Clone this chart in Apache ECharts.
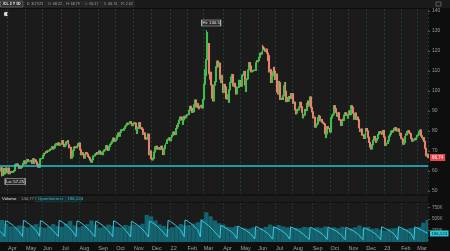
<!DOCTYPE html>
<html><head><meta charset="utf-8">
<script src="https://cdn.jsdelivr.net/npm/echarts@6/dist/echarts.min.js"></script>
<style>html,body{margin:0;padding:0;background:#0e0e0e;}#c{width:450px;height:251px;}</style>
</head><body><div id="c"></div>
<script>
// ---- daily closes per month (/CL) ----
const c2103 = [61.42, 61.55, 57.76, 61.18, 58.56, 60.97, 61.56, 60.55, 59.16];
const c2104 = [61.45, 58.65, 59.33, 59.77, 59.60, 59.32, 59.70, 60.18, 63.15, 63.46, 63.13, 63.38, 62.44, 61.35, 61.43, 62.14, 61.91, 62.94, 63.86, 65.01, 63.58];
const c2105 = [64.49, 65.69, 65.63, 64.71, 64.90, 64.92, 65.28, 63.82, 66.08, 63.82, 65.37, 65.49, 64.49, 63.36, 62.05, 61.94, 63.58, 66.05, 66.21, 66.32];
const c2106 = [67.72, 68.83, 68.81, 69.62, 69.23, 70.05, 69.96, 70.29, 70.91, 70.88, 72.12, 72.15, 71.04, 71.64, 73.06, 73.66, 73.08, 73.30, 74.05, 72.91, 73.47, 73.52];
const c2107 = [75.23, 75.16, 73.37, 72.20, 72.94, 74.56, 74.10, 75.25, 73.13, 71.65, 71.81, 66.42, 67.42, 70.30, 71.91, 72.07, 71.91, 71.65, 72.39, 73.62, 73.95];
const c2108 = [71.26, 70.56, 68.15, 69.09, 68.28, 66.48, 68.29, 69.25, 69.09, 68.44, 67.29, 66.59, 65.46, 64.50, 64.32, 65.64, 67.54, 67.54, 68.36, 68.74, 69.21, 68.50];
const c2109 = [68.59, 69.99, 69.29, 68.35, 69.30, 68.14, 69.72, 70.46, 70.61, 72.61, 71.97, 70.29, 70.49, 72.23, 73.30, 73.98, 74.98, 76.45, 75.29, 74.83, 75.03];
const c2110 = [75.88, 77.62, 78.93, 77.43, 79.30, 79.35, 80.52, 80.64, 80.44, 81.31, 82.28, 82.44, 82.96, 83.87, 83.50, 83.76, 84.65, 84.58, 82.66, 82.81, 83.57];
const c2111 = [84.05, 83.91, 80.86, 78.81, 81.27, 81.93, 84.15, 81.34, 81.59, 80.79, 80.88, 78.36, 79.01, 76.10, 75.94, 76.75, 78.50, 78.39, 68.15, 69.95, 66.18];
const c2112 = [65.57, 66.50, 66.26, 69.49, 72.05, 72.36, 70.94, 71.67, 71.29, 70.73, 70.87, 72.38, 70.86, 68.23, 71.12, 72.76, 73.79, 73.79, 75.57, 75.98, 76.56, 75.21];
const c2201 = [76.08, 76.99, 77.85, 79.46, 78.90, 78.23, 81.22, 82.64, 82.12, 83.82, 85.43, 86.96, 86.90, 85.55, 83.31, 85.60, 87.35, 86.61, 87.61, 88.15];
const c2202 = [88.20, 88.26, 90.27, 92.31, 91.32, 89.36, 89.66, 89.88, 93.10, 95.46, 92.07, 93.66, 91.76, 91.07, 92.35, 92.10, 92.81, 91.59, 95.72];
const c2203 = [103.41, 110.60, 107.67, 115.68, 119.40, 123.70, 108.70, 106.02, 109.33, 103.01, 96.44, 95.04, 102.98, 104.70, 112.12, 111.76, 114.93, 112.34, 113.90, 105.96, 104.24, 107.82, 100.28];
const c2204 = [99.27, 103.28, 101.96, 96.23, 96.03, 98.26, 94.29, 100.60, 104.25, 106.95, 108.21, 102.56, 102.75, 103.79, 102.07, 98.54, 101.70, 101.84, 105.36, 104.69];
const c2205 = [105.17, 102.41, 107.81, 108.26, 109.77, 103.09, 99.76, 105.71, 106.13, 110.49, 114.20, 112.21, 112.40, 109.59, 109.89, 110.28, 110.33, 110.29, 114.09, 115.07, 114.67];
const c2206 = [115.26, 116.87, 118.87, 118.50, 119.41, 122.11, 121.51, 120.67, 119.93, 120.93, 118.93, 115.31, 117.59, 109.56, 110.65, 104.27, 107.62, 109.57, 111.76, 109.78, 105.76];
const c2207 = [108.43, 99.50, 98.53, 104.79, 104.09, 95.84, 96.30, 95.78, 97.59, 102.60, 104.22, 99.88, 94.70, 96.70, 94.98, 97.26, 96.42, 98.62, 96.35, 98.62];
const c2208 = [93.89, 94.42, 90.66, 88.54, 89.01, 90.76, 90.50, 91.93, 94.34, 92.09, 89.41, 86.53, 87.65, 88.11, 90.77, 90.23, 93.74, 94.89, 92.52, 93.06, 97.01, 91.64, 89.55];
const c2209 = [86.61, 86.87, 86.88, 81.94, 82.94, 83.54, 86.79, 87.78, 87.31, 85.10, 85.73, 84.45, 83.94, 83.49, 78.74, 76.71, 78.50, 82.15, 81.23, 81.23, 79.49];
const c2210 = [83.63, 86.52, 87.76, 88.45, 92.64, 91.13, 89.35, 87.27, 87.27, 89.11, 85.61, 85.46, 82.82, 84.51, 85.98, 85.32, 87.91, 89.08, 87.90, 88.26, 86.53];
const c2211 = [88.37, 90.00, 88.17, 92.61, 91.79, 88.91, 85.83, 86.47, 88.96, 85.87, 86.92, 85.59, 81.64, 80.08, 79.73, 80.95, 77.94, 78.20, 76.28, 78.20, 80.55];
const c2212 = [81.22, 79.98, 76.93, 74.25, 72.01, 71.46, 71.02, 73.17, 75.39, 77.28, 76.11, 74.29, 75.19, 76.23, 78.29, 79.56, 79.53, 78.96, 78.40, 78.40, 80.26];
const c2301 = [76.93, 72.84, 73.67, 73.77, 74.63, 75.12, 77.41, 78.39, 79.86, 80.18, 79.48, 80.33, 81.31, 81.62, 80.13, 80.15, 81.01, 79.68, 77.90, 78.87];
const c2302 = [76.41, 75.88, 73.39, 74.11, 77.14, 78.47, 78.06, 79.72, 80.14, 79.06, 78.59, 76.34, 76.36, 74.95, 75.39, 75.68, 76.32, 75.68, 77.05];
const c2303 = [77.69, 78.16, 79.68, 80.46, 77.58, 76.66, 75.72, 76.68, 74.80, 71.33, 67.61, 68.35, 66.74];
const firstOpen = 60.00;
const monthLabels = ['', 'Apr', 'May', 'Jun', 'Jul', 'Aug', 'Sep', 'Oct', 'Nov', 'Dec', '22', 'Feb', 'Mar', 'Apr', 'May', 'Jun', 'Jul', 'Aug', 'Sep', 'Oct', 'Nov', 'Dec', '23', 'Feb', 'Mar'];
// intraday extremes [dayIndex, high, low] (null = body)
const extremes = [[2, 61.55, 57.25], [243, 130.50, null], [244, 129.44, null], [308, 123.18, null]];
const hiValue = 130.50, hiIndex = 243;
const loValue = 57.25, loIndex = 2;
const supportLevel = 62.43;
const priceTicks = [50, 60, 70, 80, 90, 100, 110, 120, 130, 140];
// weekly volume (thousands)
const weeklyVolume = [480, 400, 340, 330, 360, 350, 320, 360, 390, 330, 310, 340, 390, 350, 330, 400, 460, 360, 320, 350, 390, 470, 380, 310, 340, 380, 350, 330, 320, 370, 350, 380, 360, 400, 590, 560, 470, 380, 350, 290, 320, 340, 390, 360, 370, 400, 430, 500, 650, 560, 470, 410, 380, 330, 320, 350, 300, 300, 290, 320, 290, 300, 330, 380, 330, 370, 340, 320, 300, 310, 300, 330, 320, 290, 320, 310, 340, 300, 320, 300, 330, 290, 300, 320, 360, 300, 330, 290, 300, 270, 250, 290, 300, 310, 290, 280, 300, 310, 330, 420, 480];
// open interest points [dayIndex, thousands]
const oiPoints = [[0,230],[5,120],[6,460],[9,440],[15,360],[21,250],[26,120],
[27,470],[30,445],[36,360],[42,250],[46,125],[47,465],[50,440],[56,355],[62,245],[68,120],
[69,470],[72,445],[78,360],[84,250],[89,120],[90,460],[93,440],[99,355],[105,245],[111,115],
[112,455],[115,430],[121,350],[127,240],[132,115],[133,460],[136,435],[142,350],[148,240],[153,110],
[154,450],[157,425],[163,345],[169,235],[174,110],[175,455],[178,430],[184,350],[190,240],[196,110],
[197,470],[200,445],[206,365],[212,255],[216,115],[217,480],[220,455],[226,370],[232,260],[235,110],
[236,470],[239,440],[245,350],[251,240],[258,90],[259,360],[262,335],[268,270],[274,185],[278,70],
[279,345],[282,320],[288,260],[294,180],[299,65],[300,340],[303,315],[309,255],[315,175],[320,60],
[321,335],[324,310],[330,250],[336,170],[340,60],[341,330],[344,305],[350,250],[356,170],[363,55],
[364,320],[367,300],[373,240],[379,165],[384,55],[385,325],[388,300],[394,245],[400,165],[405,50],
[406,320],[409,295],[415,240],[421,160],[426,50],[427,315],[430,290],[436,235],[442,160],[447,50],
[448,330],[451,305],[457,250],[463,170],[467,50],[468,335],[471,310],[477,255],[483,175],[486,55],
[487,330],[490,305],[496,250],[502,186]];
const volTicks = [250000, 500000, 750000];
const lastOI = 186124;
const headerItems = ['/CL 2 Y 1D', 'D: 3/17/23', 'O: 68.22', 'H: 68.79', 'L: 66.17', 'C: 66.74', 'R: 2.62'];

// ---- build ----
const monthCloses = [c2103,c2104,c2105,c2106,c2107,c2108,c2109,c2110,c2111,c2112,c2201,c2202,c2203,c2204,c2205,c2206,c2207,c2208,c2209,c2210,c2211,c2212,c2301,c2302,c2303];
const categories = [], closes = [], labelAt = {};
monthCloses.forEach((arr, m) => arr.forEach((v, i) => {
  const idx = closes.length;
  if (i === 0 && monthLabels[m]) labelAt[idx] = monthLabels[m];
  categories.push(m + '-' + i); closes.push(v);
}));
const ext = {}; extremes.forEach(e => ext[e[0]] = e);
const candles = closes.map((c, i) => {
  const o = i === 0 ? firstOpen : closes[i - 1];
  let lo = Math.min(o, c), hi = Math.max(o, c);
  if (ext[i]) { if (ext[i][1] != null) hi = ext[i][1]; if (ext[i][2] != null) lo = ext[i][2]; }
  return [o, c, lo, hi];
});
const volData = categories.map(() => null);
weeklyVolume.forEach((v, k) => { volData[k * 5 + 2] = v * 1000; });
const oiData = categories.map(() => null);
oiPoints.forEach(p => { oiData[p[0]] = p[1] * 1000; });
const lastClose = closes[closes.length - 1];
const isMonth = (i) => labelAt[i] !== undefined;

const UP = '#3fbd4c', DOWN = '#e8806c';
const font = '"Liberation Sans", Arial, sans-serif';

const graphics = [];
graphics.push({type:'rect', shape:{x:0,y:0,width:450,height:8}, style:{fill:'#1a1a1a'}, silent:true});
const hx = [0.5, 24, 47, 64, 83, 102, 120], hw = [22.5, 22, 16, 18, 18, 17, 14];
headerItems.forEach((t, i) => {
  graphics.push({type:'rect', shape:{x:hx[i], y:1, width:hw[i], height:6}, style:{fill: i===0?'#2c2c2c':'#222222', stroke: i===0?'#9a9a9a':'#3a3a3a', lineWidth:0.5}, silent:true});
  graphics.push({type:'text', x:hx[i] + hw[i]/2, y:4.2, style:{text:t, fill: i===0?'#ffffff':'#a8a8a8', font:(i===0?'bold ':'') + '3.6px ' + font, textAlign:'center', textVerticalAlign:'middle'}, silent:true});
});
graphics.push({type:'circle', shape:{cx:6, cy:14, r:2.2}, style:{fill:'#d8d8d8'}, silent:true});
graphics.push({type:'rect', shape:{x:436, y:2, width:5, height:4}, style:{fill:'none', stroke:'#888', lineWidth:0.6}, silent:true});
// volume header strip
graphics.push({type:'rect', shape:{x:0,y:194,width:428,height:9}, style:{fill:'#111111'}, silent:true});
graphics.push({type:'rect', shape:{x:0,y:196,width:428,height:6}, style:{fill:'#1c1c1c'}, silent:true});
graphics.push({type:'text', x:2, y:199.2, style:{text:'Volume', fill:'#e8e8e8', font:'4.3px ' + font, textVerticalAlign:'middle'}, silent:true});
graphics.push({type:'text', x:21, y:199.2, style:{text:'144,777', fill:'#9a9a9a', font:'4.3px ' + font, textVerticalAlign:'middle'}, silent:true});
graphics.push({type:'rect', shape:{x:36,y:196.5,width:29,height:5.5}, style:{fill:'#18282b', stroke:'#2b4b50', lineWidth:0.5}, silent:true});
graphics.push({type:'text', x:38, y:199.2, style:{text:'OpenInterest', fill:'#34c4d8', font:'4.3px ' + font, textVerticalAlign:'middle'}, silent:true});
graphics.push({type:'rect', shape:{x:66,y:196.5,width:15,height:5.5}, style:{fill:'#18282b', stroke:'#2b4b50', lineWidth:0.5}, silent:true});
graphics.push({type:'text', x:67.5, y:199.2, style:{text:'186,124', fill:'#34c4d8', font:'4.3px ' + font, textVerticalAlign:'middle'}, silent:true});

const splitStyle = {color:'#1f4839', type:[2,2], width:0.9};

const option = {
  backgroundColor: '#0e0e0e',
  animation: false,
  grid: [
    {left:0, right:22, top:9, height:185, show:true, backgroundColor:'#1b1b1b', borderWidth:0},
    {left:0, right:22, top:203, height:39, show:true, backgroundColor:'#1b1b1b', borderWidth:0}
  ],
  xAxis: [
    {type:'category', gridIndex:0, data:categories, boundaryGap:true,
     axisLine:{show:false}, axisTick:{show:false}, axisLabel:{show:false},
     splitLine:{show:true, interval:(i)=>isMonth(i), lineStyle:splitStyle}},
    {type:'category', gridIndex:1, data:categories, boundaryGap:true,
     axisLine:{show:false}, axisTick:{show:false},
     axisLabel:{show:true, interval:(i)=>isMonth(i), formatter:(v, i)=>labelAt[i] || '', align:'left',
       fontSize:5.5, color:'#a0a0a0', margin:3, fontFamily:font},
     splitLine:{show:true, interval:(i)=>isMonth(i), lineStyle:{color:'#2a3a34', type:[2,2], width:0.8}}}
  ],
  yAxis: [
    {type:'value', gridIndex:0, position:'right', min:48.5, max:141, scale:true,
     splitLine:{show:false}, axisLine:{show:false},
     axisTick:{show:true, customValues:priceTicks, length:2, lineStyle:{color:'#555'}},
     axisLabel:{customValues:priceTicks, fontSize:5, color:'#9a9a9a', margin:4, fontFamily:font}},
    {type:'value', gridIndex:1, position:'right', min:0, max:850000,
     splitLine:{show:false}, axisLine:{show:false},
     axisTick:{show:true, customValues:volTicks, length:2, lineStyle:{color:'#555'}},
     axisLabel:{customValues:volTicks, formatter:(v)=>(v/1000)+'K', fontSize:4.5, color:'#9a9a9a', margin:4, fontFamily:font}}
  ],
  series: [
    {type:'candlestick', xAxisIndex:0, yAxisIndex:0, data:candles, barWidth:1.4,
     itemStyle:{color:UP, color0:DOWN, borderColor:UP, borderColor0:DOWN, borderWidth:1.1},
     markLine:{silent:true, symbol:['none','none'], animation:false,
       data:[
         {yAxis:supportLevel, lineStyle:{color:'#22c4d0', width:1.5, type:'solid'}, label:{show:false}},
         {yAxis:lastClose, lineStyle:{color:'rgba(0,0,0,0)', width:0}, label:{show:true, position:'end', distance:2,
           formatter:lastClose.toFixed(2), backgroundColor:'#e5474d', color:'#ffffff', fontSize:4.5, padding:[1,2], fontFamily:font}}
       ]},
     markPoint:{silent:true, animation:false,
       data:[
         {coord:[hiIndex, hiValue], symbol:'rect', symbolSize:[19,6], symbolOffset:[4,-7],
          itemStyle:{color:'#2a2a2a', borderColor:'#c8c8c8', borderWidth:0.6},
          label:{show:true, position:'inside', formatter:'Hi: ' + hiValue.toFixed(1), fontSize:4.3, color:'#f0f0f0', fontFamily:font}},
         {coord:[loIndex, loValue], symbol:'rect', symbolSize:[20,6], symbolOffset:[13,5],
          itemStyle:{color:'#2a2a2a', borderColor:'#c8c8c8', borderWidth:0.6},
          label:{show:true, position:'inside', formatter:'Lo: ' + loValue.toFixed(2), fontSize:4.3, color:'#f0f0f0', fontFamily:font}}
       ]}
    },
    {type:'bar', xAxisIndex:1, yAxisIndex:1, data:volData, barWidth:4.3, barGap:'-100%',
     itemStyle:{color:'#15636f'}, silent:true},
    {type:'line', xAxisIndex:1, yAxisIndex:1, data:oiData, connectNulls:true, showSymbol:false, symbol:'none',
     lineStyle:{color:'#38c8dc', width:1}, silent:true,
     markLine:{silent:true, symbol:['none','none'], animation:false,
       data:[{yAxis:lastOI, lineStyle:{color:'rgba(0,0,0,0)', width:0}, label:{show:true, position:'end', distance:2,
         formatter:'186,124', backgroundColor:'#2cc8d8', color:'#0b2226', fontSize:4.3, padding:[1,1.5], fontFamily:font}}]}
    }
  ],
  graphic: graphics
};
const chart = echarts.init(document.getElementById('c'));
chart.setOption(option);
</script></body></html>
